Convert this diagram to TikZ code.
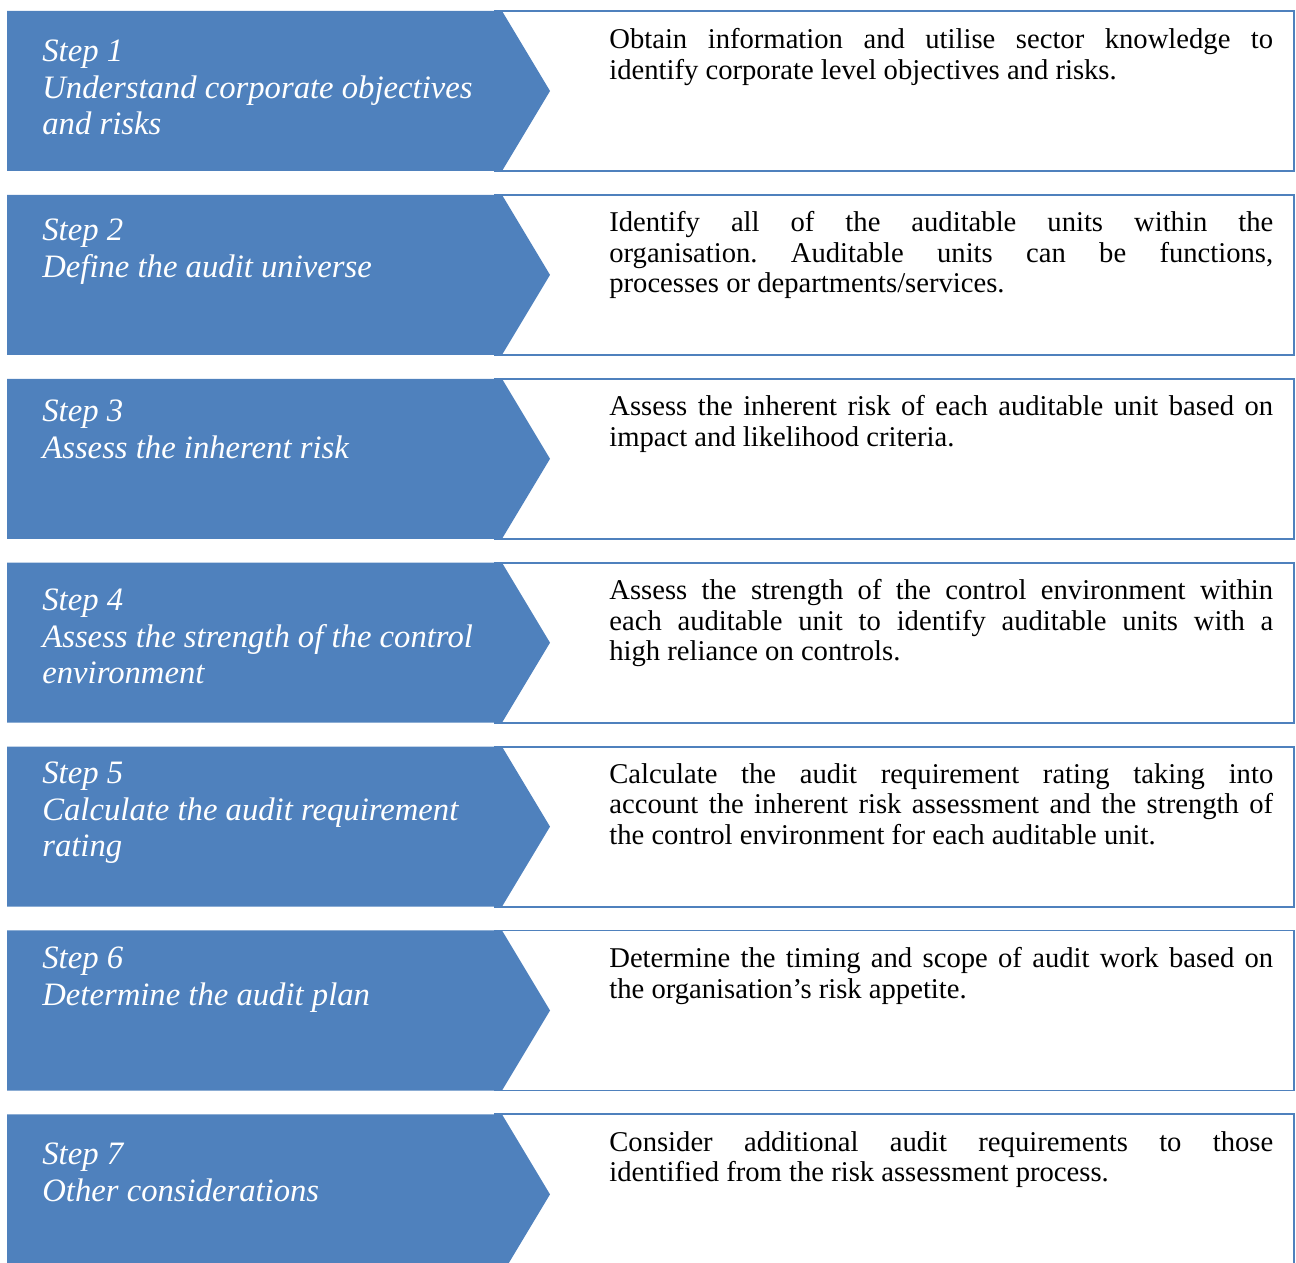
\documentclass[tikz,border=0pt]{standalone}
\usepackage{fontspec}
\setmainfont{Liberation Serif}
\usepackage{xcolor}
\usetikzlibrary{positioning}
\definecolor{stepblue}{HTML}{4F81BD}
\tolerance=9999
\hbadness=10000
\frenchspacing

\begin{document}
\begin{tikzpicture}[
    x=0.02cm, y=-0.02cm,
    stepfill/.style={fill=stepblue},
    descbox/.style={draw=stepblue, line width=1.1pt, fill=white},
    steptext/.style={anchor=north west, inner sep=0pt, align=left, text=white, font=\fontsize{18.6}{20.7}\selectfont\itshape},
    desctext/.style={anchor=north west, inner sep=0pt, text width=13.28cm, align=justify, font=\fontsize{16.3}{17.4}\selectfont}
]
    \useasboundingbox (0,0) rectangle (1296,1263);
    \clip (0,0) rectangle (1296,1263);

    % Boxes and chevrons
    \foreach \i in {0,...,6} {
        \pgfmathsetmacro\rowtop{11+183.9*\i}
        \draw[descbox] (495,\rowtop) rectangle (1294,\rowtop+160);
        \fill[stepfill] (7,\rowtop) -- (502,\rowtop) -- (550,\rowtop+80) -- (502,\rowtop+160) -- (7,\rowtop+160) -- cycle;
    }

    % Step titles
    \node[steptext] (step1) at (42,40) {Step 1\\Understand corporate objectives\\and risks};
    \node[steptext] (step2) at (42,219) {Step 2\\Define the audit universe};
    \node[steptext] (step3) at (42,400) {Step 3\\Assess the inherent risk};
    \node[steptext] (step4) at (42,589) {Step 4\\Assess the strength of the control\\environment};
    \node[steptext] (step5) at (42,762) {Step 5\\Calculate the audit requirement\\rating};
    \node[steptext] (step6) at (42,947) {Step 6\\Determine the audit plan};
    \node[steptext] (step7) at (42,1143) {Step 7\\Other considerations};

    % Descriptions
    \node[desctext] (desc1) at (609,28) {Obtain information and utilise sector knowledge to\linebreak identify corporate level objectives and risks.};
    \node[desctext] (desc2) at (609,211) {Identify all of the auditable units within the\linebreak organisation. Auditable units can be functions,\linebreak processes or departments/services.};
    \node[desctext] (desc3) at (609,395) {Assess the inherent risk of each auditable unit based on\linebreak impact and likelihood criteria.};
    \node[desctext] (desc4) at (609,579) {Assess the strength of the control environment within\linebreak each auditable unit to identify auditable units with a\linebreak high reliance on controls.};
    \node[desctext] (desc5) at (609,763) {Calculate the audit requirement rating taking into\linebreak account the inherent risk assessment and the strength of\linebreak the control environment for each auditable unit.};
    \node[desctext] (desc6) at (609,947) {Determine the timing and scope of audit work based on\linebreak the organisation’s risk appetite.};
    \node[desctext] (desc7) at (609,1131) {Consider additional audit requirements to those\linebreak identified from the risk assessment process.};
\end{tikzpicture}
\end{document}
